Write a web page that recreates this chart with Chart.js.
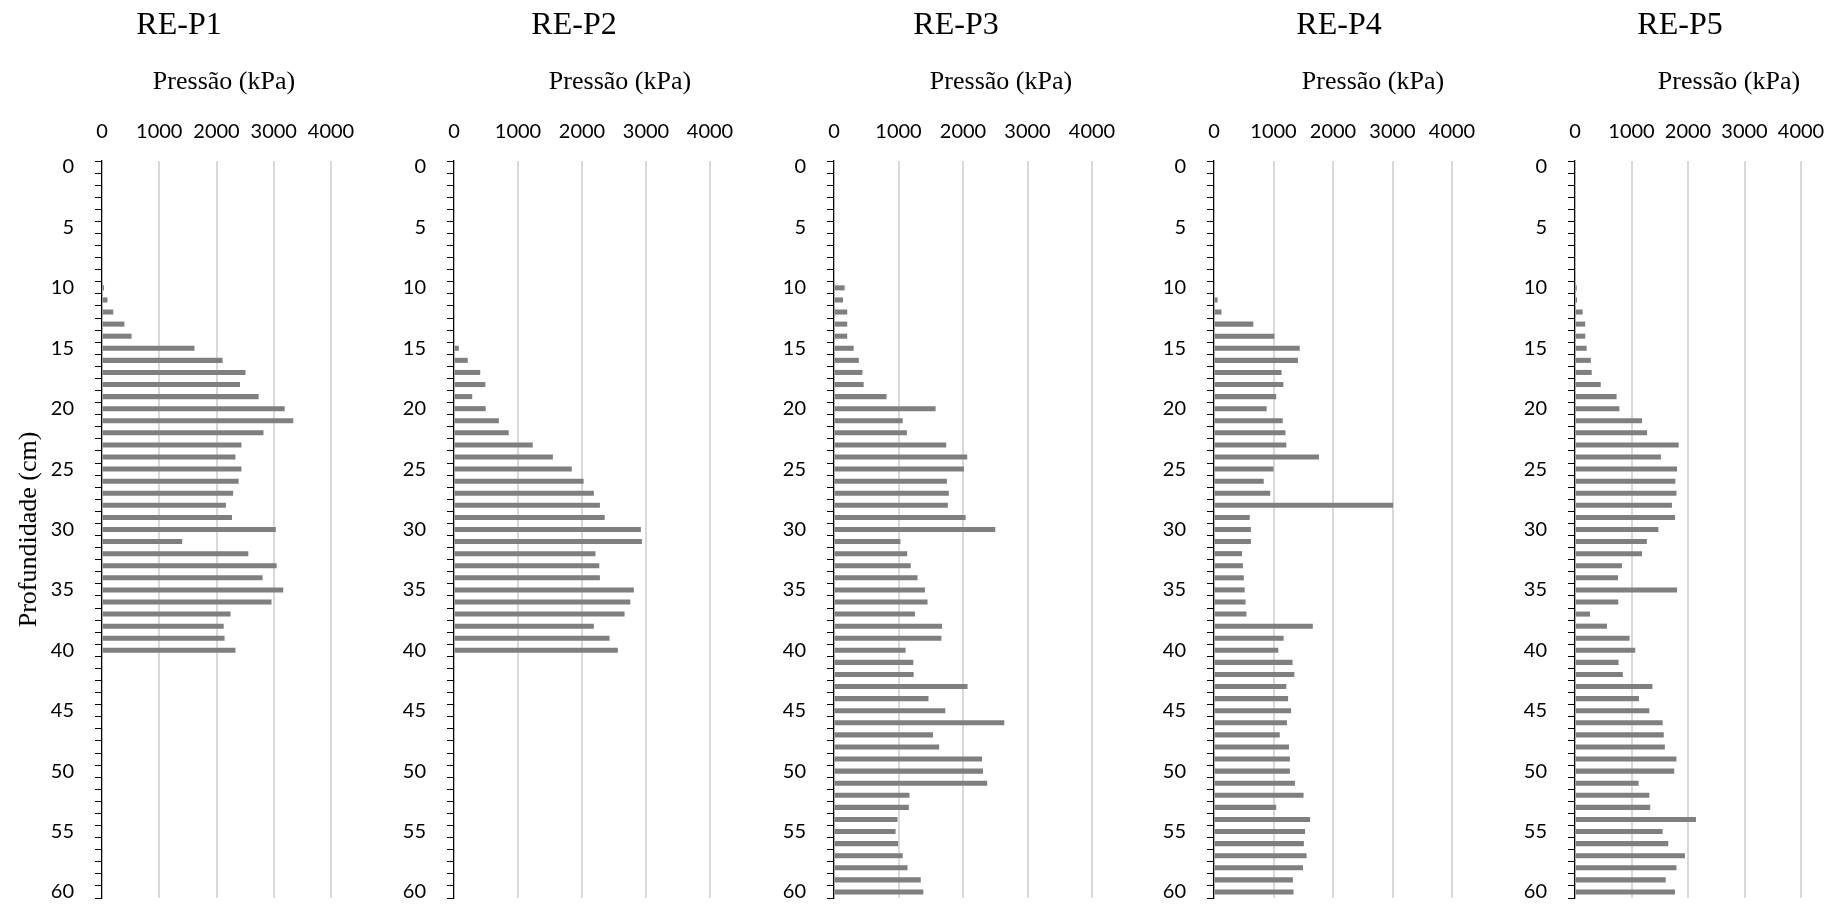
<!DOCTYPE html>
<html>
<head>
<meta charset="utf-8">
<script src="https://cdn.jsdelivr.net/npm/chart.js@4.4.1/dist/chart.umd.min.js"></script>
<style>
  html, body { margin: 0; padding: 0; background: #ffffff; }
  #wrap { position: relative; width: 1842px; height: 904px; overflow: hidden; }
  #wrap canvas { position: absolute; left: 0; top: 0; }
</style>
</head>
<body>
<div id="wrap">
  <canvas id="p1" width="1842" height="904"></canvas>
  <canvas id="p2" width="1842" height="904"></canvas>
  <canvas id="p3" width="1842" height="904"></canvas>
  <canvas id="p4" width="1842" height="904"></canvas>
  <canvas id="p5" width="1842" height="904"></canvas>
</div>
<script>
// Depth categories (cm), one bar slot per centimetre
const depths = ['0','1','2','3','4','5','6','7','8','9','10','11','12','13','14','15','16','17','18','19','20',
  '21','22','23','24','25','26','27','28','29','30','31','32','33','34','35','36','37','38','39','40',
  '41','42','43','44','45','46','47','48','49','50','51','52','53','54','55','56','57','58','59','60'];

// Pressure axis ticks (kPa)
const pressureTicks = [0, 1000, 2000, 3000, 4000];

// Panel names
const panelNames = ['RE-P1', 'RE-P2', 'RE-P3', 'RE-P4', 'RE-P5'];

// Penetration resistance (kPa) by depth, 0–60 cm
const reP1 = [null, null, null, null, null, null, null, null, null, null,
  30, 90, 190, 385, 510, 1610, 2100, 2500, 2405, 2730,
  3185, 3335, 2815, 2430, 2325, 2430, 2380, 2285, 2160, 2265,
  3030, 1395, 2550, 3045, 2800, 3160, 2955, 2240, 2120, 2135,
  2325, null, null, null, null, null, null, null, null, null,
  null, null, null, null, null, null, null, null, null, null, null];

const reP2 = [null, null, null, null, null, null, null, null, null, null,
  null, null, null, null, null, 70, 210, 405, 485, 280,
  490, 695, 850, 1225, 1540, 1835, 2020, 2180, 2275, 2350,
  2915, 2930, 2205, 2265, 2275, 2805, 2750, 2660, 2180, 2425,
  2555, null, null, null, null, null, null, null, null, null,
  null, null, null, null, null, null, null, null, null, null, null];

const reP3 = [null, null, null, null, null, null, null, null, null, null,
  160, 135, 200, 200, 200, 300, 380, 435, 455, 810,
  1570, 1060, 1125, 1735, 2060, 2010, 1745, 1775, 1760, 2035,
  2495, 1025, 1130, 1185, 1290, 1405, 1445, 1250, 1670, 1660,
  1105, 1225, 1230, 2065, 1460, 1720, 2635, 1530, 1625, 2290,
  2305, 2370, 1165, 1155, 980, 950, 990, 1060, 1135, 1340, 1380];

const reP4 = [null, null, null, null, null, null, null, null, null, null,
  null, 55, 120, 655, 1010, 1435, 1405, 1130, 1160, 1040,
  880, 1150, 1195, 1210, 1760, 995, 830, 940, 3005, 595,
  615, 615, 465, 480, 495, 510, 525, 540, 1655, 1165,
  1075, 1315, 1345, 1210, 1240, 1290, 1220, 1100, 1255, 1270,
  1270, 1355, 1500, 1040, 1610, 1525, 1505, 1550, 1490, 1320, 1330];

const reP5 = [null, null, null, null, null, null, null, null, null, null,
  25, 30, 130, 175, 175, 200, 275, 290, 450, 730,
  780, 1180, 1270, 1830, 1515, 1800, 1770, 1790, 1710, 1765,
  1470, 1265, 1180, 825, 755, 1800, 760, 260, 560, 960,
  1060, 765, 840, 1365, 1125, 1310, 1545, 1565, 1585, 1790,
  1750, 1120, 1310, 1325, 2135, 1545, 1645, 1940, 1790, 1600, 1765];

const panelSeries = [reP1, reP2, reP3, reP4, reP5];

// ---- layout (page pixels) ----
const PAGE_W = 1842, PAGE_H = 904;
const PLOT_TOP = 161, PLOT_BOTTOM = 898;
const Y_AXIS_W = 60, X_AXIS_H = 40;
const plotLefts  = [102, 454, 834, 1214, 1575];
const plotRights = [331, 710, 1092, 1452, 1801];
const nameCenters  = [179, 574, 956, 1339, 1680];
const unitCenters  = [224, 620, 1001, 1373, 1729];

const SERIF = '"Liberation Serif", "Times New Roman", serif';
const SANS = 'Lato, "Open Sans", sans-serif';

// Panel headings and the shared depth title
const panelTextPlugin = {
  id: 'panelText',
  afterDraw(chart, args, opts) {
    const ctx = chart.ctx;
    ctx.save();
    ctx.fillStyle = '#000';
    ctx.textAlign = 'center';
    ctx.textBaseline = 'alphabetic';
    ctx.font = '32px ' + SERIF;
    ctx.fillText(opts.name, opts.nameX, 34);
    ctx.font = '26px ' + SERIF;
    ctx.fillText('Pressão (kPa)', opts.unitX, 89);
    if (opts.depthTitle) {
      ctx.translate(36, (PLOT_TOP + PLOT_BOTTOM) / 2);
      ctx.rotate(-Math.PI / 2);
      ctx.fillText('Profundidade (cm)', 0, 0);
    }
    ctx.restore();
  }
};

function buildPanel(i) {
  const canvas = document.getElementById('p' + (i + 1));
  return new Chart(canvas, {
    type: 'bar',
    data: {
      labels: depths,
      datasets: [{
        data: panelSeries[i],
        backgroundColor: '#7f7f7f',
        borderWidth: 0,
        barThickness: 4.4
      }]
    },
    options: {
      indexAxis: 'y',
      responsive: false,
      animation: false,
      devicePixelRatio: 1,
      events: [],
      layout: {
        padding: {
          left: plotLefts[i] - Y_AXIS_W,
          right: PAGE_W - plotRights[i],
          top: PLOT_TOP - X_AXIS_H,
          bottom: PAGE_H - PLOT_BOTTOM
        }
      },
      plugins: {
        legend: { display: false },
        tooltip: { enabled: false },
        panelText: {
          name: panelNames[i],
          nameX: nameCenters[i],
          unitX: unitCenters[i],
          depthTitle: i === 0
        }
      },
      scales: {
        x: {
          type: 'linear',
          position: 'top',
          min: pressureTicks[0],
          max: pressureTicks[pressureTicks.length - 1],
          afterBuildTicks: s => { s.ticks = pressureTicks.map(v => ({ value: v })); },
          ticks: {
            autoSkip: false,
            maxRotation: 0,
            minRotation: 0,
            padding: 17,
            color: '#000',
            font: { family: SANS, size: 20 },
            callback: v => String(v)
          },
          grid: {
            drawTicks: false,
            lineWidth: 2,
            color: c => (c.tick && c.tick.value === 0) ? 'rgba(0,0,0,0)' : '#d9d9d9'
          },
          border: { display: false },
          afterFit: s => { s.height = X_AXIS_H; }
        },
        y: {
          type: 'category',
          offset: true,
          ticks: {
            autoSkip: false,
            padding: 21,
            color: '#000',
            font: { family: SANS, size: 20 },
            callback: (v, idx) => (idx % 5 === 0 ? depths[idx] : '')
          },
          grid: {
            offset: true,
            drawOnChartArea: false,
            drawTicks: true,
            tickLength: 7,
            lineWidth: 1,
            color: '#000'
          },
          border: { display: true, color: '#000', width: 1.3 },
          // fixed axis width; end labels may overhang the plot edges
          afterFit: s => { s.width = Y_AXIS_W; s.paddingTop = 0; s.paddingBottom = 0; }
        }
      }
    },
    plugins: [panelTextPlugin]
  });
}

panelSeries.forEach((_, i) => buildPanel(i));
</script>
</body>
</html>
